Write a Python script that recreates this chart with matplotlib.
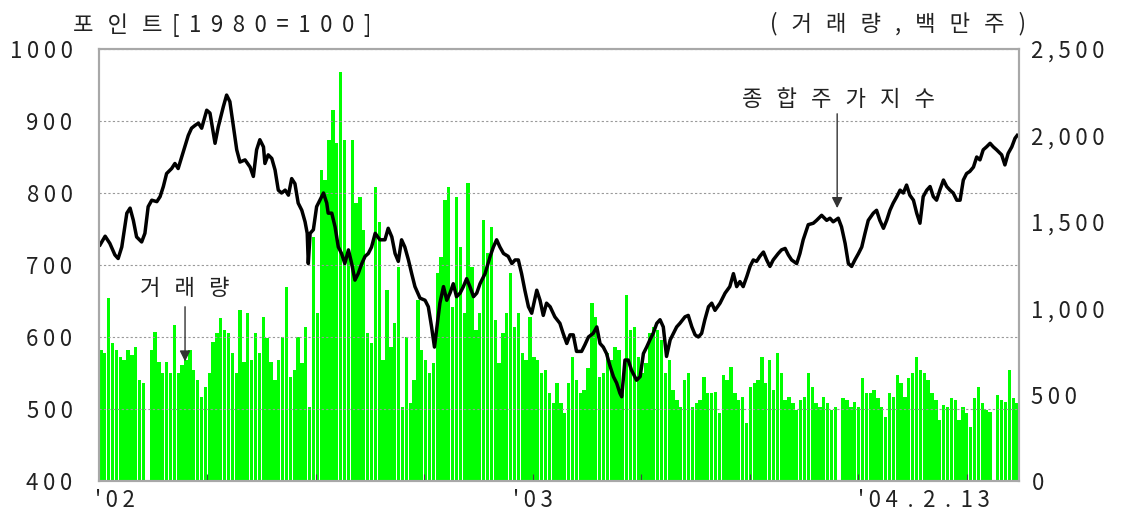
import numpy as np
import matplotlib
matplotlib.use('Agg')
import matplotlib.pyplot as plt

plt.rcParams['font.family'] = ['Noto Sans CJK KR', 'DejaVu Sans']

# composite stock price index, position in months since Jan 2002
kospi_month = [
    0.03, 0.17, 0.30, 0.44, 0.53, 0.63, 0.77, 0.86, 0.95, 1.04, 1.18, 1.27, 1.36, 1.46, 1.60, 1.69,
    1.78, 1.87, 2.01, 2.10, 2.19, 2.33, 2.47, 2.56, 2.66, 2.75, 2.84, 2.98, 3.07, 3.21, 3.30, 3.44,
    3.53, 3.62, 3.72, 3.81, 3.90, 4.04,
    4.18, 4.27, 4.36, 4.45, 4.55, 4.59, 4.68, 4.78, 4.87, 4.96, 5.05, 5.15, 5.24, 5.33, 5.42, 5.51,
    5.61, 5.70, 5.76, 5.79, 5.84, 5.93, 6.02, 6.11, 6.21, 6.30, 6.34, 6.44, 6.53, 6.62, 6.71, 6.80,
    6.90, 6.99, 7.08, 7.17, 7.27, 7.36, 7.45, 7.54, 7.64, 7.77, 7.91, 8.00, 8.10, 8.19, 8.28, 8.37,
    8.46, 8.56, 8.65, 8.74, 8.88, 9.02, 9.11, 9.20, 9.28, 9.34, 9.43, 9.53, 9.62, 9.71, 9.80, 9.89,
    9.99, 10.08, 10.17, 10.26, 10.36, 10.45, 10.54, 10.68, 10.82, 10.91, 11.00, 11.09, 11.19, 11.32,
    11.42, 11.51, 11.60, 11.69, 11.78, 11.88, 11.97, 12.11, 12.20, 12.29, 12.38, 12.48, 12.61,
    12.75, 12.84, 12.94, 13.03, 13.12, 13.21, 13.35, 13.44, 13.54, 13.67, 13.77, 13.86, 13.95, 14.04,
    14.14, 14.23, 14.32, 14.41, 14.46, 14.55, 14.64, 14.73, 14.87, 14.97, 15.06, 15.15, 15.24, 15.33,
    15.43, 15.52, 15.61, 15.70, 15.80, 15.89, 15.98, 16.07, 16.21, 16.30, 16.40, 16.49, 16.58, 16.67,
    16.76, 16.86, 16.95,
    17.04, 17.18, 17.32, 17.45, 17.55, 17.64, 17.73, 17.82, 17.92, 18.01, 18.10, 18.19, 18.28, 18.38,
    18.47, 18.56, 18.65, 18.79, 18.88, 18.98, 19.07, 19.16, 19.30, 19.39, 19.48, 19.62, 19.76, 19.85,
    19.99, 20.13, 20.22, 20.31, 20.45, 20.54, 20.64, 20.73, 20.82, 20.91, 21.01, 21.10, 21.19, 21.28,
    21.42, 21.51, 21.60, 21.70, 21.79, 21.88, 21.97, 22.07, 22.16, 22.25, 22.34, 22.43, 22.53, 22.62,
    22.71, 22.80, 22.90, 22.99, 23.08, 23.17, 23.26, 23.36, 23.45, 23.54, 23.63, 23.73, 23.82, 23.91,
    24.00, 24.09, 24.19, 24.28, 24.37, 24.46, 24.55, 24.65, 24.74, 24.83, 24.97, 25.06, 25.15, 25.25,
    25.34, 25.40,
]
kospi = [
    728, 740, 730, 714, 709, 725, 772, 779, 762, 739, 732, 744, 781, 790, 788, 795,
    809, 827, 834, 841, 834, 857, 880, 890, 894, 897, 890, 915, 911, 869, 892, 920,
    936, 927, 892, 860, 843, 846,
    836, 823, 860, 874, 864, 841, 853, 848, 832, 804, 800, 804, 797, 820, 813, 786,
    776, 760, 744, 702, 744, 749, 781, 790, 800, 786, 772, 772, 753, 725, 716, 702,
    721, 702, 679, 688, 702, 712, 716, 725, 744, 735, 735, 751, 739, 716, 705, 735,
    725, 707, 688, 670, 654, 651, 642, 614, 586, 610, 647, 670, 651, 661, 674, 656,
    661, 670, 681, 670, 656, 661, 674, 688, 712, 725, 735, 725, 716, 712,
    702, 707, 707, 688, 665, 642, 633, 665, 651, 630, 647, 642, 628,
    619, 605, 591, 603, 603, 580, 580, 589, 600, 605, 614, 591, 586, 577,
    559, 545, 536, 522, 517, 568, 568, 554, 540, 545, 577, 586, 596, 605,
    619, 624, 614, 573, 596, 605, 614, 619, 628, 630, 614, 603, 600, 605,
    624, 642, 647,
    637, 647, 661, 670, 688, 670, 677, 670, 684, 698, 707, 705, 712, 718,
    707, 698, 707, 716, 721, 723, 714, 707, 702, 716, 735, 756, 758, 762,
    769, 762, 765, 760, 765, 753, 730, 702, 698, 707, 716, 725, 744, 762,
    772, 776, 762, 751, 762, 776, 786, 795, 804, 800, 811, 797, 790, 772,
    758, 795, 804, 809, 795, 790, 804, 818, 809, 804, 800, 790, 790, 818,
    827, 830, 836, 850, 846, 860, 864, 869, 864, 860, 853, 839, 855, 864,
    876, 880,
]

# trading volume (million shares), left to right, evenly spaced
volume = [
    758, 739, 1057, 797, 758, 720, 700, 758, 729, 777, 584, 565, 0, 758, 864, 690, 623, 690, 623, 903,
    623, 671, 700, 758, 642, 584, 488, 546, 623, 806, 855, 941, 874, 855, 739, 623, 989, 690, 970,
    700, 855, 739, 951, 826, 690, 584, 700, 835, 1125, 604, 642, 835, 681, 893, 430, 1414, 970, 1800, 1742,
    1973, 2147, 1954, 2369, 1973, 1317, 1973, 1607, 1645, 1452, 855, 797, 1703, 1501, 700, 1105, 777, 912, 1240, 430,
    835, 449, 584, 1047, 758, 700, 623, 681, 1202, 1298, 1626, 1703, 1009, 1645, 1356, 970, 1723, 1240, 874, 970,
    1510, 1317, 1472, 932, 681, 855, 970, 1202, 893, 970, 739, 700, 951, 720, 700, 623, 642, 507, 449, 565,
    449, 391, 565, 720, 584, 507, 527, 652, 1028, 951, 604, 623, 739, 700, 777, 758, 527, 1076, 874, 893,
    720, 623, 681, 855, 893, 874, 816, 623, 700, 527, 469, 430, 584, 623, 430, 449, 469, 604, 507, 507,
    517, 391, 613, 584, 662, 507, 469, 488, 334, 546, 565, 584, 720, 565, 700, 527, 739, 623, 469, 488,
    449, 411, 469, 488, 623, 546, 449, 430, 488, 449, 411, 430, 0, 478, 469, 430, 459, 430, 594, 507,
    507, 527, 478, 430, 372, 507, 488, 613, 565, 488, 594, 623, 720, 642, 623, 584, 507, 469, 353, 440,
    430, 478, 469, 353, 430, 391, 314, 478, 546, 449, 411, 401, 0, 498, 469, 459, 642, 478, 449,
]

index_ticks = [400, 500, 600, 700, 800, 900, 1000]
volume_ticks = [0, 500, 1000, 1500, 2000, 2500]
volume_labels = ['0', '500', '1,000', '1,500', '2,000', '2,500']
quarter_ticks = [3, 6, 9, 12, 15, 18, 21, 24]
end_month = 25.45

TH = '\u2009'
WIDE = ' ' + TH + TH
FS = 16
INK = '#222222'


def spread(s, sep=TH):
    return sep.join(s)


fig = plt.figure(figsize=(11.28, 5.23), dpi=100)
ax = fig.add_axes([99 / 1128, 1 - 481 / 523, 920 / 1128, 432 / 523])
ax2 = ax.twinx()
ax.set_zorder(ax2.get_zorder() + 1)
ax.patch.set_visible(False)

# volume bars (right axis)
step = end_month / len(volume)
x_vol = np.arange(len(volume)) * step + step / 2
ax2.bar(x_vol, volume, width=step * 0.86, color='#00ff00', linewidth=0)
ax2.set_ylim(0, 2500)
ax2.set_yticks(volume_ticks)
ax2.set_yticklabels([spread(v) for v in volume_labels])
ax2.tick_params(axis='y', length=0, pad=9, labelsize=FS, labelcolor=INK)

# index line (left axis)
ax.plot(kospi_month, kospi, color='black', lw=2.5, solid_joinstyle='round')
ax.set_xlim(0, end_month)
ax.set_ylim(400, 1000)
ax.set_yticks(index_ticks)
ax.set_yticklabels([spread(str(v)) for v in index_ticks])
ax.tick_params(axis='y', length=0, pad=19, labelsize=FS, labelcolor=INK)
ax.yaxis.grid(True, linestyle=(0, (2, 2)), color='#999999', lw=0.8)

ax.set_xticks(quarter_ticks)
ax.set_xticklabels([])
ax.tick_params(axis='x', direction='in', length=5, color='#444444')

for a in (ax, ax2):
    for sp in a.spines.values():
        sp.set_color('#a8a8a8')
        sp.set_linewidth(1.5)

# x labels
xt = ax.get_xaxis_transform()
ax.text(-0.1, -0.018, spread("'02"), transform=xt, ha='left', va='top', fontsize=FS, color=INK)
ax.text(12.0, -0.018, spread("'03"), transform=xt, ha='center', va='top', fontsize=FS, color=INK)
end_label = "'" + TH + "0" + TH + "4" + " " + TH + "." + " " + TH + "2" + " " + TH + "." + " " + TH + "1" + TH + "3"
ax.text(21.0, -0.018, end_label, transform=xt, ha='left', va='top', fontsize=FS, color=INK)

# headers
fig.text(73 / 1128, 1 - 25 / 523, spread('포인트', WIDE) + ' ' + TH + spread('[1980=100]', ' ' + TH),
         ha='left', va='center', fontsize=FS, color=INK)
fig.text(770 / 1128, 1 - 24 / 523,
         spread('(거래량,', WIDE) + WIDE + spread('백만', WIDE) + WIDE + spread('주)', WIDE),
         ha='left', va='center', fontsize=FS, color=INK)

# annotations
ax.text(17.79, 930, spread('종합주가지수', WIDE), ha='left', va='center', fontsize=FS, color=INK)
ax.annotate('', xy=(20.42, 779), xytext=(20.42, 910),
            arrowprops=dict(arrowstyle='-|>', color='#333333', lw=1.0, mutation_scale=16,
                            shrinkA=0, shrinkB=0))
ax.text(1.13, 668, spread('거래량', WIDE), ha='left', va='center', fontsize=FS, color=INK)
ax.annotate('', xy=(2.38, 566), xytext=(2.38, 642),
            arrowprops=dict(arrowstyle='-|>', color='#333333', lw=1.0, mutation_scale=16,
                            shrinkA=0, shrinkB=0))

fig.savefig('out.png', dpi=100)
